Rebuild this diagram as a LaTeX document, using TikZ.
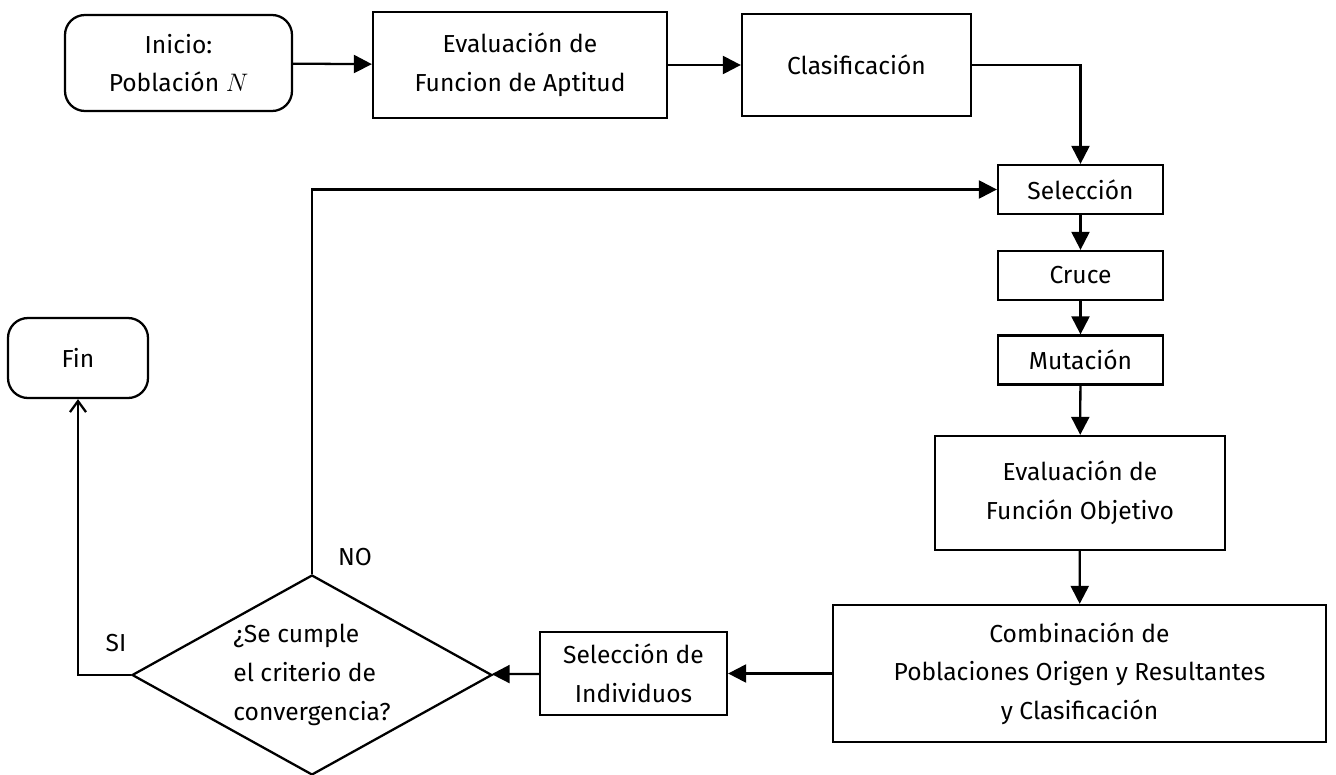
\documentclass[tikz,border=0pt]{standalone}
\usepackage{fontspec}
\setmainfont{Fira Sans}
\usepackage{tikz}
\usetikzlibrary{positioning,shapes.geometric,arrows.meta}

\tikzset{
  box/.style={draw, rectangle, line width=1.3pt, align=center, inner sep=0pt},
  roundbox/.style={box, rounded corners=0.4cm},
  decision/.style={draw, diamond, line width=1.3pt, inner sep=0pt},
  flow/.style={line width=1.3pt, -{Triangle[length=0.36cm,width=0.36cm]}},
  yesflow/.style={line width=1.3pt, -{Straight Barb[length=0.22cm,width=0.32cm]}},
}

\begin{document}
\begin{tikzpicture}[every node/.style={font=\fontsize{14}{22}\selectfont}]
\useasboundingbox (0,0) rectangle (26.72,-15.5);
% Top row
\node[roundbox, minimum width=4.54cm, minimum height=1.92cm] (inicio) at (3.57,-1.26) {Inicio:\\Población $N$};
\node[box, minimum width=5.88cm, minimum height=2.12cm] (aptitud) at (10.4,-1.3) {Evaluación de\\Funcion de Aptitud};
\node[box, minimum width=4.58cm, minimum height=2.04cm] (clasif) at (17.13,-1.3) {Clasificación};

% Right column
\node[box, minimum width=3.3cm, minimum height=0.98cm] (seleccion) at (21.61,-3.79) {Selección};
\node[box, minimum width=3.3cm, minimum height=0.98cm] (cruce) at (21.61,-5.51) {Cruce};
\node[box, minimum width=3.3cm, minimum height=0.98cm] (mutacion) at (21.61,-7.2) {Mutación};
\node[box, minimum width=5.8cm, minimum height=2.28cm] (objetivo) at (21.6,-9.86) {Evaluación de\\Función Objetivo};
\node[box, minimum width=9.86cm, minimum height=2.74cm] (combina) at (21.59,-13.47) {Combinación de\\Poblaciones Origen y Resultantes\\y Clasificación};

% Bottom row
\node[box, minimum width=3.74cm, minimum height=1.66cm] (individuos) at (12.67,-13.47) {Selección de\\Individuos};
\node[decision, minimum width=7.2cm, minimum height=4cm] (criterio) at (6.24,-13.5) {};
\node[align=left] (criteriotxt) at (criterio.center) {¿Se cumple\\el criterio de\\convergencia?};
\node[roundbox, minimum width=2.8cm, minimum height=1.6cm] (fin) at (1.56,-7.16) {Fin};

% Arrows
\draw[flow] (inicio) -- (aptitud);
\draw[flow] (aptitud) -- (clasif);
\draw[flow] (clasif.east) -| (seleccion.north);
\draw[flow] (seleccion) -- (cruce);
\draw[flow] (cruce) -- (mutacion);
\draw[flow] (mutacion) -- (objetivo);
\draw[flow] (objetivo) -- (combina);
\draw[flow] (combina) -- (individuos);
\draw[flow] (individuos) -- (criterio);
\draw[flow] (criterio.north) |- (seleccion.west);
\draw[yesflow] (criterio.west) -| (fin.south);

% Labels
\node (no) at (7.1,-11.14) {NO};
\node (si) at (2.32,-12.86) {SI};
\end{tikzpicture}
\end{document}
